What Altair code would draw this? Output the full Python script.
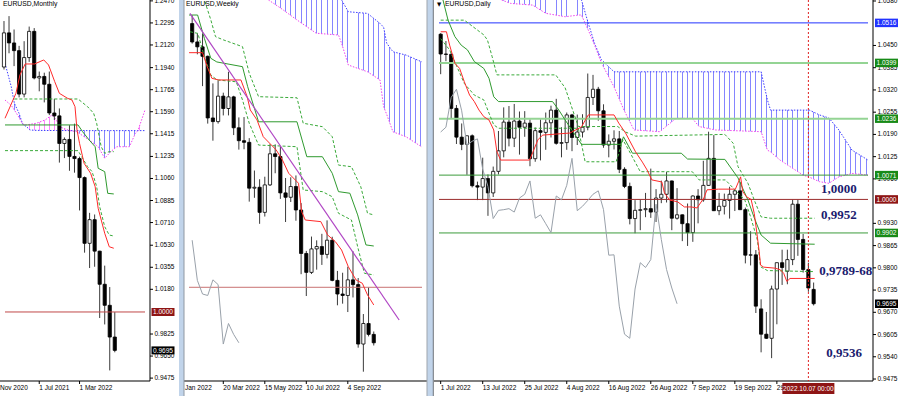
import math
import altair as alt
import numpy as np
import pandas as pd

# ---------------------------------------------------------------- data
# Monthly EURUSD (index 0 = Jan 2021)
m_idx = list(range(-1, 22))
m_open = [1.1945, 1.2216, 1.2136, 1.2075, 1.1730, 1.2020, 1.2228, 1.1858, 1.1870, 1.1808, 1.1580, 1.1557,
          1.1338, 1.1370, 1.1235, 1.1218, 1.1067, 1.0545, 1.0733, 1.0483, 1.0220, 1.0053, 0.9801]
m_high = [1.2310, 1.2349, 1.2243, 1.2113, 1.2150, 1.2266, 1.2254, 1.1909, 1.1900, 1.1909, 1.1692, 1.1616,
          1.1386, 1.1483, 1.1495, 1.1233, 1.1076, 1.0787, 1.0774, 1.0486, 1.0368, 1.0198, 0.9999]
m_low = [1.1925, 1.2054, 1.1952, 1.1704, 1.1704, 1.1986, 1.1847, 1.1752, 1.1664, 1.1563, 1.1524, 1.1186,
         1.1222, 1.1121, 1.1106, 1.0806, 1.0471, 1.0349, 1.0359, 0.9952, 0.9901, 0.9536, 0.9680]
m_close = [1.2216, 1.2136, 1.2075, 1.1730, 1.2020, 1.2228, 1.1858, 1.1870, 1.1808, 1.1580, 1.1557, 1.1338,
           1.1370, 1.1235, 1.1218, 1.1067, 1.0545, 1.0733, 1.0483, 1.0220, 1.0053, 0.9801, 0.9695]
m_tenkan_x = [-0.8, 1.37, 2.17, 3.2, 5.07, 6.9, 7.85, 9.07, 10.0, 11.6, 12.5, 13.1, 13.5, 14.0, 14.9, 16.2,
              17.1, 17.7, 19.0, 19.9, 20.8]
m_tenkan_y = [1.1538, 1.1736, 1.1882, 1.1969, 1.1969, 1.2001, 1.1961, 1.1829, 1.1736, 1.1697, 1.1683, 1.1630,
              1.1445, 1.1339, 1.1181, 1.1101, 1.0995, 1.0823, 1.0625, 1.0518, 1.0506]
m_kijun_x = [-0.8, 13.7, 14.6, 15.9, 17.1, 17.7, 19.0, 19.6, 20.8]
m_kijun_y = [1.1485, 1.1485, 1.1432, 1.1366, 1.1312, 1.1141, 1.1114, 1.0942, 1.0937]
m_dot1_x = [1.06, 13.7, 15.6, 16.8, 17.4, 18.3, 19.0, 19.9, 20.8]
m_dot1_y = [1.1691, 1.1691, 1.1630, 1.1578, 1.1498, 1.1312, 1.1260, 1.1273, 1.1273]
m_dot2_x = [-0.8, 13.7, 15.6, 16.5, 17.4, 18.0, 19.0, 19.9, 20.8]
m_dot2_y = [1.1281, 1.1281, 1.1154, 1.1114, 1.0995, 1.0836, 1.0677, 1.0611, 1.0603]
m_cloud_x = [-0.8, 0.44, 1.06, 1.98, 2.7, 3.5, 4.15, 5.4, 7.2, 8.5, 9.4, 10.0, 12.0, 13.4, 15.9, 17.7,
             19.0, 20.2, 21.4, 23.9, 25.1, 25.6, 27.0]
m_span_a = [1.1975, 1.1789, 1.1657, 1.1578, 1.1492, 1.1470, 1.1445, 1.1442, 1.1441, 1.1441, 1.1441, 1.1441,
            1.1440, 1.1440, 1.1440, 1.1440, 1.1440, 1.1440, 1.1440, 1.1440, 1.1440, 1.1440, 1.1440]
m_span_b = [1.1683, 1.1640, 1.1604, 1.1545, 1.1492, 1.1485, 1.1490, 1.1498, 1.1525, 1.1564, 1.1525, 1.1471,
            1.1440, 1.1432, 1.1366, 1.1312, 1.1220, 1.1273, 1.1312, 1.1312, 1.1419, 1.1440, 1.1604]
m_tick_idx = [6, 14]
m_tick_lab = ["1 Jul 2021", "1 Mar 2022"]
m_price_ticks = [1.2470, 1.2295, 1.2120, 1.1940, 1.1765, 1.1590, 1.1415, 1.1235, 1.1060, 1.0885, 1.0710,
                 1.0530, 1.0355, 1.0180, 0.9825, 0.9650, 0.9475]
m_levels = [1.0000]
m_boxes = [1.0000, 0.9695]

# Weekly EURUSD (index 0 = week of 6 Feb 2022)
w_idx = list(range(0, 36))
w_open = [1.1450, 1.1349, 1.1322, 1.1270, 1.0931, 1.0911, 1.1051, 1.0983, 1.1047, 1.0877, 1.0806, 1.0797,
          1.0545, 1.0550, 1.0412, 1.0563, 1.0734, 1.0719, 1.0519, 1.0495, 1.0554, 1.0425, 1.0186, 1.0082,
          1.0211, 1.0224, 1.0181, 1.0259, 1.0038, 0.9963, 0.9955, 1.0041, 1.0015, 0.9688, 0.9801, 0.9741]
w_high = [1.1495, 1.1396, 1.1395, 1.1274, 1.1121, 1.1137, 1.1070, 1.1185, 1.1053, 1.0934, 1.0936, 1.0820,
          1.0642, 1.0594, 1.0608, 1.0787, 1.0786, 1.0774, 1.0601, 1.0605, 1.0615, 1.0463, 1.0200, 1.0279,
          1.0258, 1.0294, 1.0368, 1.0278, 1.0090, 1.0080, 1.0113, 1.0198, 1.0051, 0.9853, 0.9999, 0.9757]
w_low = [1.1340, 1.1281, 1.1106, 1.0900, 1.0806, 1.0900, 1.0945, 1.0945, 1.0837, 1.0757, 1.0759, 1.0471,
         1.0492, 1.0349, 1.0389, 1.0557, 1.0627, 1.0486, 1.0359, 1.0469, 1.0366, 1.0072, 0.9952, 1.0073,
         1.0097, 1.0123, 1.0159, 1.0033, 0.9901, 0.9910, 0.9864, 0.9944, 0.9668, 0.9536, 0.9730, 0.9680]
w_close = [1.1349, 1.1322, 1.1270, 1.0931, 1.0911, 1.1051, 1.0983, 1.1047, 1.0877, 1.0806, 1.0797, 1.0545,
           1.0550, 1.0412, 1.0563, 1.0734, 1.0719, 1.0519, 1.0495, 1.0554, 1.0425, 1.0186, 1.0082, 1.0211,
           1.0224, 1.0181, 1.0259, 1.0038, 0.9963, 0.9955, 1.0041, 1.0015, 0.9688, 0.9801, 0.9741, 0.9695]
w_tenkan_x = [-0.6, 2.0, 2.9, 3.8, 5.1, 9.4, 10.6, 11.2, 12.5, 13.7, 16.2, 17.4, 18.6, 20.5, 21.1, 21.8,
              24.8, 26.1, 27.6, 28.8, 30.1, 31.6, 32.8, 33.8, 35.0]
w_tenkan_y = [1.1290, 1.1290, 1.1213, 1.1149, 1.1140, 1.1140, 1.1048, 1.0975, 1.0920, 1.0828, 1.0755, 1.0700,
              1.0627, 1.0572, 1.0416, 1.0370, 1.0361, 1.0288, 1.0251, 1.0205, 1.0113, 1.0040, 1.0022, 0.9958,
              0.9903]
w_kijun_x = [-0.6, 1.05, 2.35, 3.6, 4.75, 9.7, 10.7, 12.8, 20.2, 22.1, 25.1, 27.0, 28.2, 30.4, 31.9, 33.5, 35.0]
w_kijun_y = [1.1497, 1.1497, 1.1369, 1.1259, 1.1239, 1.1213, 1.1103, 1.0910, 1.0910, 1.0718, 1.0718, 1.0627,
             1.0526, 1.0517, 1.0398, 1.0233, 1.0227]
w_dot1_x = [1.5, 2.35, 3.6, 4.5, 6.05, 9.7, 11.0, 12.8, 20.2, 21.4, 25.1, 27.0, 28.2, 30.7, 32.5, 33.8, 35.0]
w_dot1_y = [1.1620, 1.1580, 1.1470, 1.1378, 1.1360, 1.1323, 1.1177, 1.1048, 1.1042, 1.0902, 1.0883, 1.0828,
            1.0672, 1.0663, 1.0553, 1.0407, 1.0398]
w_dot2_x = [-0.4, 1.1, 2.35, 3.6, 4.8, 8.5, 9.7, 11.0, 12.8, 20.2, 21.4, 25.1, 27.0, 28.2, 30.7, 31.9, 33.2, 35.0]
w_dot2_y = [1.1405, 1.1396, 1.1268, 1.1167, 1.1140, 1.1130, 1.1030, 1.0902, 1.0782, 1.0773, 1.0535, 1.0526,
            1.0498, 1.0407, 1.0370, 1.0223, 1.0077, 1.0068]
w_cloud_x = [14.7, 17.1, 20.2, 23.9, 28.2, 28.8, 30.1, 33.8, 36.2, 36.9, 37.5, 38.7, 41.2, 44.3]
w_span_a = [1.1750, 1.1750, 1.1750, 1.1750, 1.1650, 1.1580, 1.1515, 1.1506, 1.1451, 1.1430, 1.1342, 1.1295,
            1.1277, 1.1239]
w_span_b = [1.1580, 1.1534, 1.1470, 1.1397, 1.1387, 1.1342, 1.1222, 1.1185, 1.1140, 1.0993, 1.0950, 1.0855,
            1.0828, 1.0771]
w_trend_x = [-0.43, 39.9]
w_trend_y = [1.1506, 0.9820]
w_tick_idx = [6, 14, 22, 30]
w_tick_lab = ["20 Mar 2022", "15 May 2022", "10 Jul 2022", "4 Sep 2022"]
w_levels = [1.0000]

# Daily EURUSD (index 0 = 1 Jul 2022, 71 = 10 Oct 2022)
d_idx = list(range(0, 72))
d_open = [1.0483, 1.0425, 1.0424, 1.0266, 1.0182, 1.0161, 1.0186, 1.0040, 1.0036, 1.0061, 1.0019, 1.0082,
          1.0142, 1.0226, 1.0179, 1.0229, 1.0211, 1.0223, 1.0119, 1.0201, 1.0196, 1.0224, 1.0261, 1.0164,
          1.0166, 1.0247, 1.0181, 1.0197, 1.0211, 1.0298, 1.0322, 1.0259, 1.0159, 1.0170, 1.0177, 1.0088,
          1.0038, 0.9944, 0.9968, 0.9970, 0.9973, 0.9963, 1.0004, 1.0015, 1.0054, 0.9945, 0.9955, 0.9929,
          0.9903, 1.0010, 0.9999, 1.0041, 1.0120, 0.9967, 0.9980, 0.9997, 1.0015, 1.0025, 0.9970, 0.9837,
          0.9838, 0.9680, 0.9606, 0.9594, 0.9738, 0.9815, 0.9790, 0.9824, 0.9986, 0.9883, 0.9795, 0.9737]
d_high = [1.0486, 1.0463, 1.0429, 1.0276, 1.0222, 1.0186, 1.0190, 1.0052, 1.0122, 1.0073, 1.0096, 1.0200,
          1.0269, 1.0273, 1.0279, 1.0257, 1.0258, 1.0234, 1.0210, 1.0234, 1.0254, 1.0274, 1.0294, 1.0211,
          1.0254, 1.0250, 1.0248, 1.0249, 1.0368, 1.0364, 1.0329, 1.0278, 1.0190, 1.0202, 1.0200, 1.0094,
          1.0049, 0.9998, 0.9999, 1.0019, 1.0090, 1.0030, 1.0055, 1.0080, 1.0055, 1.0033, 0.9956, 0.9988,
          1.0012, 1.0030, 1.0113, 1.0198, 1.0188, 1.0019, 1.0017, 1.0037, 1.0030, 1.0051, 0.9976, 0.9907,
          0.9852, 0.9708, 0.9671, 0.9748, 0.9815, 0.9853, 0.9853, 0.9999, 0.9999, 0.9899, 0.9815, 0.9757]
d_low = [1.0366, 1.0404, 1.0236, 1.0162, 1.0144, 1.0072, 1.0035, 0.9998, 0.9998, 0.9952, 1.0007, 1.0073,
         1.0123, 1.0155, 1.0153, 1.0131, 1.0183, 1.0097, 1.0110, 1.0114, 1.0145, 1.0181, 1.0160, 1.0123,
         1.0145, 1.0141, 1.0159, 1.0181, 1.0202, 1.0276, 1.0230, 1.0151, 1.0123, 1.0146, 1.0077, 1.0033,
         0.9927, 0.9901, 0.9910, 0.9948, 0.9946, 0.9934, 0.9989, 0.9991, 0.9910, 0.9941, 0.9878, 0.9864,
         0.9876, 0.9930, 0.9993, 1.0040, 0.9966, 0.9954, 0.9956, 0.9944, 0.9966, 0.9969, 0.9813, 0.9807,
         0.9668, 0.9553, 0.9592, 0.9536, 0.9635, 0.9750, 0.9752, 0.9808, 0.9835, 0.9786, 0.9730, 0.9690]
d_close = [1.0425, 1.0424, 1.0266, 1.0182, 1.0161, 1.0186, 1.0040, 1.0036, 1.0061, 1.0019, 1.0082, 1.0142,
           1.0226, 1.0179, 1.0229, 1.0211, 1.0223, 1.0119, 1.0201, 1.0196, 1.0224, 1.0261, 1.0164, 1.0166,
           1.0247, 1.0181, 1.0197, 1.0211, 1.0298, 1.0322, 1.0259, 1.0159, 1.0170, 1.0177, 1.0088, 1.0038,
           0.9944, 0.9968, 0.9970, 0.9973, 0.9963, 1.0004, 1.0015, 1.0054, 0.9945, 0.9955, 0.9929, 0.9903,
           1.0010, 0.9999, 1.0041, 1.0120, 0.9967, 0.9980, 0.9997, 1.0015, 1.0025, 0.9970, 0.9837, 0.9838,
           0.9688, 0.9606, 0.9594, 0.9738, 0.9815, 0.9801, 0.9824, 0.9986, 0.9883, 0.9795, 0.9741, 0.9695]
d_tenkan_x = [0, 1.1, 1.7, 2.7, 3.6, 4.5, 5.5, 6.4, 7.3, 8.2, 9.2, 10.1, 10.7, 11.4, 16.9, 17.5, 18.5, 19.4,
              24.6, 26.8, 28.1, 33.0, 33.9, 35.2, 37.1, 38.4, 39.3, 40.2, 42.1, 42.6, 43.6, 45.1, 46.4, 47.7,
              48.8, 50.1, 50.7, 52.9, 56.1, 57.1, 57.5, 58.2, 59.1, 59.7, 60.2, 60.6, 60.9, 61.5, 63.7, 64.7,
              65.3, 65.9, 66.5, 71.2]
d_tenkan_y = [1.0490, 1.0490, 1.0451, 1.0398, 1.0383, 1.0344, 1.0305, 1.0286, 1.0261, 1.0242, 1.0232, 1.0203,
              1.0140, 1.0115, 1.0115, 1.0136, 1.0174, 1.0188, 1.0194, 1.0212, 1.0247, 1.0247, 1.0223, 1.0194,
              1.0139, 1.0109, 1.0086, 1.0057, 1.0051, 1.0019, 0.9998, 0.9993, 0.9978, 0.9978, 0.9975, 1.0004,
              1.0028, 1.0030, 1.0030, 1.0066, 1.0023, 1.0008, 1.0000, 0.9959, 0.9901, 0.9852, 0.9808, 0.9802,
              0.9799, 0.9794, 0.9784, 0.9760, 0.9769, 0.9769]
d_kijun_x = [0.0, 1.4, 2.7, 3.9, 5.1, 6.4, 8.2, 9.2, 10.1, 11.0, 21.3, 22.5, 23.7, 26.8, 34.3, 34.8, 36.5,
             45.8, 47.0, 54.1, 56.6, 58.5, 59.7, 61.0, 62.8, 71.2]
d_kijun_y = [1.0610, 1.0524, 1.0476, 1.0451, 1.0437, 1.0403, 1.0383, 1.0354, 1.0300, 1.0286, 1.0286, 1.0261,
             1.0232, 1.0161, 1.0161, 1.0183, 1.0135, 1.0135, 1.0118, 1.0117, 1.0063, 0.9998, 0.9946, 0.9896,
             0.9872, 0.9869]
d_dot1_x = [0.0, 4.5, 8.2, 8.9, 9.8, 10.7, 21.9, 23.7, 26.2, 33.7, 35.2, 37.1, 54.1, 55.7, 56.6, 58.5, 59.7,
            61.0, 62.8, 71.2]
d_dot1_y = [1.0524, 1.0524, 1.0481, 1.0466, 1.0417, 1.0364, 1.0364, 1.0326, 1.0213, 1.0213, 1.0197, 1.0185,
            1.0190, 1.0164, 1.0096, 1.0047, 0.9998, 0.9949, 0.9945, 0.9945]
d_dot2_x = [0.0, 1.7, 2.66, 4.5, 6.4, 8.2, 9.2, 10.1, 11.0, 26.2, 27.5, 33.4, 34.7, 35.8, 38.0, 47.9, 49.2,
            54.2, 57.9, 59.0, 60.3, 60.9, 62.2, 70.9]
d_dot2_y = [1.0470, 1.0437, 1.0403, 1.0339, 1.0305, 1.0291, 1.0252, 1.0218, 1.0208, 1.0208, 1.0110, 1.0110,
            1.0174, 1.0144, 1.0081, 1.0081, 1.0057, 1.0057, 0.9998, 0.9949, 0.9881, 0.9803, 0.9792, 0.9789]
d_cloud_x = [11.6, 13.3, 17.5, 20.0, 23.7, 26.3, 26.8, 28.1, 29.3, 30.6, 33.0, 34.9, 36.8, 41.7, 44.8, 47.9,
             49.2, 52.3, 61.0, 62.2, 62.8, 64.6, 69.0, 70.2, 72.1, 73.9, 75.8, 78.3, 81.35]
d_span_a = [1.0700, 1.0700, 1.0700, 1.0690, 1.0650, 1.0600, 1.0583, 1.0515, 1.0456, 1.0408, 1.0373, 1.0373,
            1.0373, 1.0373, 1.0373, 1.0373, 1.0373, 1.0373, 1.0373, 1.0291, 1.0261, 1.0261, 1.0261, 1.0261,
            1.0247, 1.0238, 1.0203, 1.0144, 1.0115]
d_span_b = [1.0583, 1.0573, 1.0568, 1.0544, 1.0534, 1.0539, 1.0539, 1.0495, 1.0451, 1.0399, 1.0329, 1.0261,
            1.0203, 1.0198, 1.0237, 1.0237, 1.0213, 1.0203, 1.0198, 1.0144, 1.0139, 1.0115, 1.0071, 1.0065,
            1.0052, 1.0047, 1.0066, 1.0076, 1.0071]
d_tick_idx = [0, 8, 16, 24, 32, 40, 48, 56, 64]
d_tick_lab = ["1 Jul 2022", "13 Jul 2022", "25 Jul 2022", "4 Aug 2022", "16 Aug 2022", "26 Aug 2022",
              "7 Sep 2022", "19 Sep 2022", "29 Sep 2022"]
d_price_ticks = [1.0580, 1.0450, 1.0385, 1.0320, 1.0255, 1.0190, 1.0125, 1.0060, 0.9930, 0.9865, 0.9800,
                 0.9735, 0.9670, 0.9605, 0.9540, 0.9475]
d_levels = [1.0516, 1.0399, 1.0236, 1.0071, 1.0000, 0.9902]
d_boxes = [1.0516, 1.0399, 1.0236, 1.0071, 1.0000, 0.9902, 0.9695]
d_notes = ["1,0000", "0,9952", "0,9789-68", "0,9536"]
d_notes_idx = [72.4, 72.4, 72.05, 73.4]
d_notes_y = [1.0029, 0.9954, 0.9792, 0.9552]
d_cursor_idx = [70]
d_cursor_label = ["2022.10.07 00:00"]
CHIKOU_SHIFT = 26

# ---------------------------------------------------------------- styles / layout
CHART_W, CHART_H, AXIS_H = 900, 381, 15
SANS, SERIF = "Liberation Sans", "Liberation Serif"
PANEL = {
    "m": {"xd": [-0.8, 27.0], "xr": [0, 150], "yd": [0.9452, 1.2477]},
    "w": {"xd": [-0.61, 44.3], "xr": [184, 427], "yd": [0.94848, 1.15796]},
    "d": {"xd": [-0.32, 81.35], "xr": [434, 873], "yd": [0.94692, 1.05829]},
}
RED, KIJUN, DOTG = "#ff2a2a", "#2f9a2f", "#3aaa3a"
SPAN_A_COL, SPAN_B_COL = "#3c3cff", "#f044f0"
STRIPE_BLUE, STRIPE_PINK = "#8585ff", "#ff85ff"
GRAY, PURPLE = "#99a1aa", "#b046c4"
M_LEVEL_STYLE = (["#c04848"], [1])
W_LEVEL_STYLE = (["#c87272"], [1])
D_LEVEL_STYLE = (["#2233ff", "#94d494", "#94d494", "#3c9c3c", "#9a2b2b", "#3c9c3c"], [1, 2, 2, 1, 1, 1])
M_BOX_COLS = ["#8e1515", "#000000"]
D_BOX_COLS = ["#2233ff", "#178a17", "#178a17", "#178a17", "#8e1515", "#178a17", "#000000"]
NOTE_COL = "#1b1b6e"
SEP_COL = "#c1d4ea"
TRANSP = "rgba(255,255,255,0)"
AXIS_FONT = 6.5


def xsc(p):
    return alt.Scale(domain=PANEL[p]["xd"], range=PANEL[p]["xr"], nice=False, zero=False)


def ysc(p):
    return alt.Scale(domain=PANEL[p]["yd"], nice=False, zero=False)


def X(p, f="x"):
    return alt.X(f"{f}:Q", scale=xsc(p), axis=None)


def Y(p, f="y"):
    return alt.Y(f"{f}:Q", scale=ysc(p), axis=None)


def ppi(p):
    d, r = PANEL[p]["xd"], PANEL[p]["xr"]
    return (r[1] - r[0]) / (d[1] - d[0])


ONE = pd.DataFrame({"k": [0]})


def px_rect(x0, x1, y0, y1, color):
    return alt.Chart(ONE).mark_rect(color=color).encode(
        x=alt.value(x0), x2=alt.value(x1), y=alt.value(y0), y2=alt.value(y1))


def px_text(txt, x, y, font=SANS, size=6.8, **kw):
    return alt.Chart(pd.DataFrame({"t": [txt]})).mark_text(
        font=font, fontSize=size, color="#000", align="left", baseline="top", **kw
    ).encode(x=alt.value(x), y=alt.value(y), text="t:N")


def price_axis(p, vals):
    """Right-hand price scale drawn through the panel's y scale."""
    x0 = PANEL[p]["xr"][1]
    df = pd.DataFrame({"y": vals, "t": [f"{v:.4f}" for v in vals]})
    dom = px_rect(x0 - 0.5, x0 + 0.5, 0, CHART_H, "#000")
    ticks = alt.Chart(df).mark_rule(color="#000", strokeWidth=1).encode(
        x=alt.value(x0), x2=alt.value(x0 + 3), y=Y(p))
    labs = alt.Chart(df).mark_text(font=SANS, fontSize=AXIS_FONT, color="#000", align="left",
                                   baseline="middle").encode(x=alt.value(x0 + 4.5), y=Y(p), text="t:N")
    return [dom, ticks, labs]


def time_axis(p, idx, labels):
    """Bottom time scale drawn through the panel's x scale."""
    r = PANEL[p]["xr"]
    df = pd.DataFrame({"x": idx, "t": labels})
    dom = px_rect(r[0], r[1], CHART_H - 0.5, CHART_H + 0.5, "#000")
    ticks = alt.Chart(df).mark_rule(color="#000", strokeWidth=1).encode(
        x=X(p), y=alt.value(CHART_H), y2=alt.value(CHART_H + 3))
    labs = alt.Chart(df).mark_text(font=SANS, fontSize=AXIS_FONT, color="#000", align="left",
                                   baseline="top").encode(x=X(p), y=alt.value(CHART_H + 4), text="t:N")
    return [dom, ticks, labs]


def stripe_fill(x0, x1, pxi, color, step=1.0):
    w = (x1 - x0) * pxi
    half = 0.5 / w
    stops = [{"offset": 0.0, "color": TRANSP}]
    k = math.ceil(x0 / step) * step
    last = 0.0
    while k <= x1 + 1e-9:
        off = (k - x0) / (x1 - x0)
        a = round(max(last, off - half), 6)
        b = round(min(1.0, off + half), 6)
        stops += [{"offset": a, "color": TRANSP}, {"offset": a, "color": color},
                  {"offset": b, "color": color}, {"offset": b, "color": TRANSP}]
        last = b
        k += step
    stops.append({"offset": 1.0, "color": TRANSP})
    return {"gradient": "linear", "x1": 0, "y1": 0, "x2": 1, "y2": 0, "stops": stops}


def line_layer(p, xs_, ys_, color, width=1.0, dash=None):
    df = pd.DataFrame({"x": xs_, "y": ys_})
    kw = dict(color=color, strokeWidth=width, clip=True)
    if dash:
        kw["strokeDash"] = dash
    return alt.Chart(df).mark_line(**kw).encode(x=X(p), y=Y(p))


def cloud_layers(p, cx, a, b):
    df = pd.DataFrame({"x": cx, "a": a, "b": b})
    n = len(cx)
    segs, cur = [], [0]
    for i in range(1, n):
        cur.append(i)
        if a[i] == b[i] and i < n - 1:
            segs.append(cur)
            cur = [i]
    segs.append(cur)
    out = []
    for s in segs:
        sub = df.iloc[s]
        up = float((sub["a"] - sub["b"]).sum()) >= 0
        col = STRIPE_BLUE if up else STRIPE_PINK
        out.append(alt.Chart(sub).mark_area(
            fill=stripe_fill(float(sub["x"].min()), float(sub["x"].max()), ppi(p), col), clip=True
        ).encode(x=X(p), y=Y(p, "a"), y2=alt.Y2("b:Q")))
    out.append(line_layer(p, cx, a, SPAN_A_COL, 1, [1.5, 1.5]))
    out.append(line_layer(p, cx, b, SPAN_B_COL, 1, [1.5, 1.5]))
    return out


def level_layer(p, vals, style):
    cols, widths = style
    xd = PANEL[p]["xd"]
    df = pd.DataFrame({"y": vals, "col": cols, "w": widths, "x0": xd[0], "x1": xd[1]})
    return alt.Chart(df).mark_rule(clip=True).encode(
        x=X(p, "x0"), x2=alt.X2("x1:Q"), y=Y(p),
        color=alt.Color("col:N", scale=None), strokeWidth=alt.StrokeWidth("w:Q", scale=None))


def candle_layers(p, xs_, o, h, l, c):
    df = pd.DataFrame({"x": xs_, "o": o, "h": h, "l": l, "c": c})
    df["fill"] = np.where(df["c"] >= df["o"], "#ffffff", "#000000")
    wick = alt.Chart(df).mark_rule(color="#3a3a3a", strokeWidth=1, clip=True).encode(
        x=X(p), y=Y(p, "l"), y2=alt.Y2("h:Q"))
    body = alt.Chart(df).mark_bar(size=3.2, stroke="#000000", strokeWidth=0.8, clip=True).encode(
        x=X(p), y=Y(p, "o"), y2=alt.Y2("c:Q"), fill=alt.Fill("fill:N", scale=None))
    return [wick, body]


def box_layers(p, vals, cols, xc, w, h):
    df = pd.DataFrame({"y": vals, "col": cols, "t": [f"{v:.4f}" for v in vals]})
    box = alt.Chart(df).mark_tick(orient="horizontal", size=w, thickness=h, opacity=1).encode(
        x=alt.value(xc), y=Y(p), color=alt.Color("col:N", scale=None))
    txt = alt.Chart(df).mark_text(font=SANS, fontSize=AXIS_FONT, color="#ffffff", align="center",
                                  baseline="middle", dy=0.5).encode(x=alt.value(xc), y=Y(p), text="t:N")
    return [box, txt]


def chikou(idx, close):
    n = len(close) - CHIKOU_SHIFT
    return idx[:n], close[CHIKOU_SHIFT:]


# ---------------------------------------------------------------- monthly panel
m_layers = []
m_layers += cloud_layers("m", m_cloud_x, m_span_a, m_span_b)
m_layers += price_axis("m", m_price_ticks)
m_layers += time_axis("m", m_tick_idx, m_tick_lab)
m_layers += candle_layers("m", m_idx, m_open, m_high, m_low, m_close)
m_layers.append(level_layer("m", m_levels, M_LEVEL_STYLE))
m_layers.append(line_layer("m", m_dot2_x, m_dot2_y, DOTG, 1, [3, 2]))
m_layers.append(line_layer("m", m_dot1_x, m_dot1_y, DOTG, 1, [3, 2]))
m_layers.append(line_layer("m", m_kijun_x, m_kijun_y, KIJUN, 1))
m_layers.append(line_layer("m", m_tenkan_x, m_tenkan_y, RED, 1))
m_layers += box_layers("m", m_boxes, M_BOX_COLS, 163, 23, 8)
monthly = alt.layer(*m_layers)

# ---------------------------------------------------------------- weekly panel
w_layers = []
w_layers += cloud_layers("w", w_cloud_x, w_span_a, w_span_b)
w_layers += time_axis("w", w_tick_idx, w_tick_lab)
w_layers += candle_layers("w", w_idx, w_open, w_high, w_low, w_close)
w_layers.append(level_layer("w", w_levels, W_LEVEL_STYLE))
wcx, wcy = chikou(w_idx, w_close)
w_layers.append(line_layer("w", wcx, wcy, GRAY, 1))
w_layers.append(line_layer("w", w_dot2_x, w_dot2_y, DOTG, 1, [3, 2]))
w_layers.append(line_layer("w", w_dot1_x, w_dot1_y, DOTG, 1, [3, 2]))
w_layers.append(line_layer("w", w_kijun_x, w_kijun_y, KIJUN, 1))
w_layers.append(line_layer("w", w_tenkan_x, w_tenkan_y, RED, 1))
w_layers.append(line_layer("w", w_trend_x, w_trend_y, PURPLE, 1.2))
weekly = alt.layer(*w_layers)

# ---------------------------------------------------------------- daily panel
d_layers = []
d_layers += cloud_layers("d", d_cloud_x, d_span_a, d_span_b)
d_layers += price_axis("d", d_price_ticks)
d_layers += time_axis("d", d_tick_idx, d_tick_lab)
d_layers += candle_layers("d", d_idx, d_open, d_high, d_low, d_close)
d_layers.append(level_layer("d", d_levels, D_LEVEL_STYLE))
dcx, dcy = chikou(d_idx, d_close)
d_layers.append(line_layer("d", dcx, dcy, GRAY, 1))
d_layers.append(line_layer("d", d_dot2_x, d_dot2_y, DOTG, 1, [3, 2]))
d_layers.append(line_layer("d", d_dot1_x, d_dot1_y, DOTG, 1, [3, 2]))
d_layers.append(line_layer("d", d_kijun_x, d_kijun_y, KIJUN, 1))
d_layers.append(line_layer("d", d_tenkan_x, d_tenkan_y, RED, 1))
cur_df = pd.DataFrame({"x": d_cursor_idx, "t": d_cursor_label})
d_layers.append(alt.Chart(cur_df).mark_rule(color="#e02020", strokeWidth=1, strokeDash=[2, 2]).encode(
    x=X("d"), y=alt.value(0), y2=alt.value(CHART_H)))
notes_df = pd.DataFrame({"x": d_notes_idx, "y": d_notes_y, "t": d_notes})
d_layers.append(alt.Chart(notes_df).mark_text(font=SERIF, fontSize=13, fontWeight="bold", color=NOTE_COL,
                                              align="left", baseline="middle").encode(
    x=X("d"), y=Y("d"), text="t:N"))
d_layers += box_layers("d", d_boxes, D_BOX_COLS, 886.5, 23, 8.5)
d_layers.append(alt.Chart(cur_df).mark_tick(orient="horizontal", size=52, thickness=11, color="#8e1515",
                                            opacity=1).encode(x=X("d"), y=alt.value(CHART_H + 7.5)))
d_layers.append(alt.Chart(cur_df).mark_text(font=SANS, fontSize=AXIS_FONT, color="#ffffff", align="center",
                                            baseline="middle").encode(
    x=X("d"), y=alt.value(CHART_H + 8), text="t:N"))
daily = alt.layer(*d_layers)

# ---------------------------------------------------------------- window chrome / titles
chrome = [
    px_rect(179, 184, 0, CHART_H + AXIS_H, SEP_COL),
    px_rect(183.5, 184.5, 0, CHART_H + AXIS_H, "#9098a2"),
    px_rect(427, 433, 0, CHART_H + AXIS_H, SEP_COL),
    px_rect(426.5, 427.5, 0, CHART_H + AXIS_H, "#a0a6ae"),
    px_rect(432.8, 433.8, 0, CHART_H + AXIS_H, "#6d737a"),
    px_text("EURUSD,Monthly", 3, 1),
    px_text("EURUSD,Weekly", 186, 1),
    px_text("\u25bc", 437, 1.5, font="DejaVu Sans", size=5.5),
    px_text("EURUSD,Daily", 445, 1),
    px_text("Nov 2020", 0, CHART_H + 4, size=AXIS_FONT),
    px_text("Jan 2022", 185, CHART_H + 4, size=AXIS_FONT),
]

chart = alt.layer(monthly, weekly, daily, *chrome).resolve_scale(
    x="independent", y="independent"
).properties(
    width=CHART_W, height=CHART_H,
    autosize=alt.AutoSizeParams(type="none"),
    padding={"left": 0, "top": 0, "right": 0, "bottom": AXIS_H},
    background="white",
).configure_view(stroke=None)

chart.save("out.html", embed_options={"renderer": "svg", "actions": False})
